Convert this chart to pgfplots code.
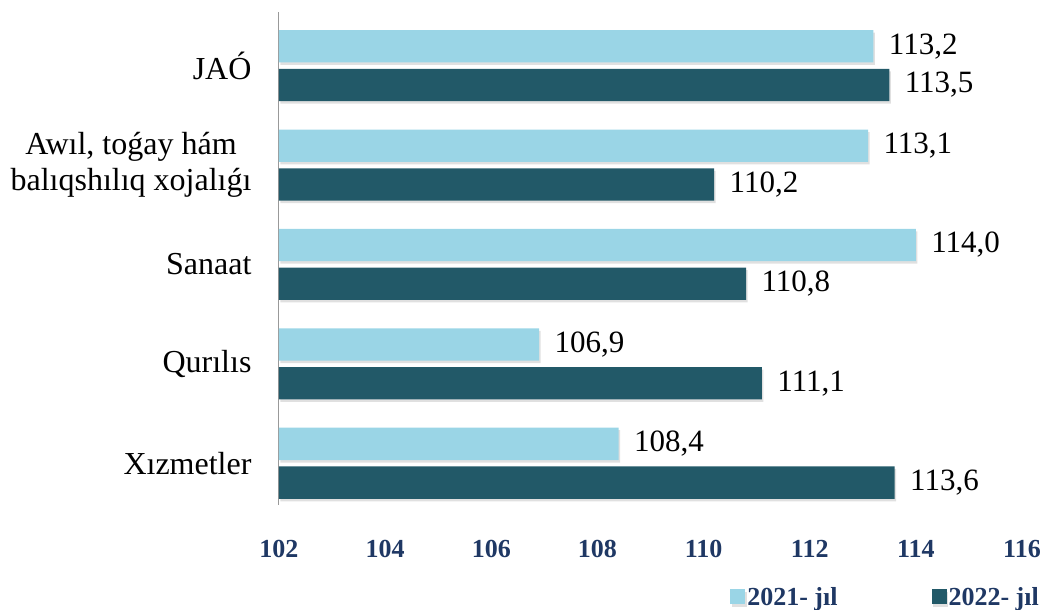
\documentclass[border=0pt]{standalone}
\usepackage{fontspec}
\setmainfont{Liberation Serif}
\usepackage{pgfplots}
\pgfplotsset{compat=1.18}
\definecolor{lightbar}{RGB}{154,213,230}
\definecolor{darkbar}{RGB}{34,89,104}
\definecolor{ticknavy}{RGB}{31,56,100}
\begin{document}
\begin{tikzpicture}
\begin{axis}[
  scale only axis, width=743pt, height=493pt,
  xbar, bar width=0.325,
  xmin=102, xmax=116, ymin=-0.42, ymax=4.54,
  xtick={102,104,...,116},
  ytick={0,1,2,3,4},
  yticklabels={Xızmetler, Qurılıs, Sanaat, {Awıl, toǵay hám\\balıqshılıq xojalıǵı}, JAÓ},
  axis lines=left,
  axis line style={-},
  x axis line style={draw=none},
  y axis line style={draw=gray!80, line width=1pt},
  major tick length=0pt,
  /pgf/number format/assume math mode=true,
  xticklabel style={font=\fontsize{26}{30}\selectfont\bfseries, text=ticknavy, yshift=-32pt},
  yticklabel style={font=\fontsize{32}{36}\selectfont, align=center, xshift=-24pt},
  nodes near coords={\pgfmathprintnumber[fixed,fixed zerofill,precision=1,use comma]{\pgfplotspointmeta}},
  every node near coord/.append style={font=\fontsize{31}{35}\selectfont, text=black, xshift=12pt},
  legend columns=2,
  legend style={draw=none, fill=none, at={(axis description cs:1,0)}, anchor=east, xshift=22pt, yshift=-92pt,
    font=\fontsize{26}{30}\selectfont\bfseries, text=ticknavy,
    /tikz/every even column/.append style={column sep=92pt}},
  legend image code/.code={\fill[#1] (0pt,-7.5pt) rectangle (15pt,7.5pt);},
]
\addplot[fill=lightbar, draw=none, bar shift=0.195,
  preaction={fill=black, opacity=0.12, transform canvas={xshift=1.5pt, yshift=-2.5pt}}] coordinates {(113.2,4) (113.1,3) (114.0,2) (106.9,1) (108.4,0)};
\addplot[fill=darkbar, draw=none, bar shift=-0.195,
  preaction={fill=black, opacity=0.12, transform canvas={xshift=1.5pt, yshift=-2.5pt}}] coordinates {(113.5,4) (110.2,3) (110.8,2) (111.1,1) (113.6,0)};
\legend{2021- jıl, 2022- jıl}
\end{axis}
\pgfresetboundingbox
\path (current axis.south west) ++(-279pt,-105pt) coordinate (bl);
\path (current axis.north east) ++(25pt,12pt) coordinate (tr);
\useasboundingbox (bl) rectangle (tr);
\end{tikzpicture}
\end{document}
